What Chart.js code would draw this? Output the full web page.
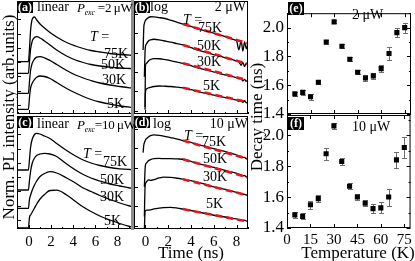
<!DOCTYPE html>
<html lang="en">
<head>
<meta charset="UTF-8" />
<title>PL transients and decay times</title>
<script src="https://cdn.jsdelivr.net/npm/chart.js@4"></script>
<style>
  body { margin: 0; background: #fff; }
  #fig { position: relative; width: 415px; height: 261px; overflow: hidden;
         font-family: "Liberation Serif", "Times New Roman", serif; color: #000; }
  #fig canvas { position: absolute; left: 0; top: 0; }
  .t { position: absolute; white-space: nowrap; line-height: 1; font-size: 14px; }
  .p { font-size: 13px; letter-spacing: -0.2px; }
  .box { position: absolute; background: #000; color: #fff; font-weight: bold;
         font-size: 12px; line-height: 12px; width: 16px; height: 12px; text-align: center; }
  .ttl { position: absolute; white-space: nowrap; font-size: 17px; line-height: 1;
         transform: translate(-50%, -50%); }
  .rot { transform: translate(-50%, -50%) rotate(-90deg); }
  sub { font-size: 8px; vertical-align: -3px; }
</style>
</head>
<body>
<div id="fig">
  <canvas id="pa" width="415" height="261"></canvas>
  <canvas id="pb" width="415" height="261"></canvas>
  <canvas id="pc" width="415" height="261"></canvas>
  <canvas id="pd" width="415" height="261"></canvas>
  <canvas id="pe" width="415" height="261"></canvas>
  <canvas id="pf" width="415" height="261"></canvas>

  <div style="position:absolute;left:131px;top:0;width:3px;height:230px;background:#8c8c8c"></div>

  <div class="box" style="left:17px;top:1px">(a)</div>
  <div class="t" style="left:37px;top:0px">linear</div>
  <div class="t p" style="left:77px;top:1px"><i>P</i><sub><i>exc</i></sub> =2&thinsp;μW</div>
  <div class="t" style="left:90px;top:30px"><i>T</i> =</div>
  <div class="t" style="left:104px;top:47px">75K</div>
  <div class="t" style="left:101px;top:58px">50K</div>
  <div class="t" style="left:102px;top:73px">30K</div>
  <div class="t" style="left:107px;top:97px">5K</div>

  <div class="box" style="left:134px;top:1px">(b)</div>
  <div class="t" style="left:150px;top:0px">log</div>
  <div class="t" style="right:169px;top:0px">2 μW</div>
  <div class="t" style="left:183px;top:13px"><i>T</i> =</div>
  <div class="t" style="left:198px;top:21px">75K</div>
  <div class="t" style="left:197px;top:39px">50K</div>
  <div class="t" style="left:197px;top:55px">30K</div>
  <div class="t" style="left:203px;top:79px">5K</div>

  <div class="box" style="left:17px;top:116px">(c)</div>
  <div class="t" style="left:37px;top:117px">linear</div>
  <div class="t p" style="left:77px;top:118px"><i>P</i><sub><i>exc</i></sub>=10&thinsp;μW</div>
  <div class="t" style="left:83px;top:147px"><i>T</i> =</div>
  <div class="t" style="left:103px;top:155px">75K</div>
  <div class="t" style="left:100px;top:173px">50K</div>
  <div class="t" style="left:100px;top:190px">30K</div>
  <div class="t" style="left:104px;top:214px">5K</div>

  <div class="box" style="left:134px;top:116px">(d)</div>
  <div class="t" style="left:153px;top:117px">log</div>
  <div class="t" style="right:167px;top:117px">10 μW</div>
  <div class="t" style="left:184px;top:129px"><i>T</i> =</div>
  <div class="t" style="left:202px;top:135px">75K</div>
  <div class="t" style="left:203px;top:152px">50K</div>
  <div class="t" style="left:203px;top:170px">30K</div>
  <div class="t" style="left:206px;top:197px">5K</div>

  <div class="box" style="left:288px;top:2px;height:13px;line-height:13px">(e)</div>
  <div class="t" style="left:352px;top:8px">2 μW</div>
  <div class="box" style="left:288px;top:117px;height:13px;line-height:13px">(f)</div>
  <div class="t" style="left:352px;top:120px">10 μW</div>

  <div class="ttl rot" style="left:8px;top:117px">Norm. PL intensity (arb.units)</div>
  <div class="ttl" style="left:191px;top:252px">Time (ns)</div>
  <div class="ttl rot" style="left:256px;top:117px">Decay time (ns)</div>
  <div class="ttl" style="left:358px;top:252px">Temperature (K)</div>
</div>

<script>
// ---- data ----
// linear panels (a),(c): time in ns, intensity in arb. units (curves offset)
const timeLin = [-1.1, -0.05, 0.05, 0.15, 0.3, 0.5, 0.7, 1.0, 1.4, 1.9, 2.5, 3.4, 4.2, 4.9, 5.6, 6.4, 7.3, 8.2, 9.1, 9.3];
const linA75 = [5.23, 5.23, 6.6, 8.4, 9.5, 9.7, 9.4, 9.0, 8.6, 8.15, 7.7, 7.15, 6.8, 6.55, 6.35, 6.2, 6.05, 5.95, 5.88, 5.87];
const linA50 = [4.07, 4.07, 5.3, 6.5, 7.3, 7.65, 7.73, 7.6, 7.3, 6.9, 6.4, 5.8, 5.4, 5.15, 4.95, 4.8, 4.68, 4.6, 4.55, 4.54];
const linA30 = [2.07, 2.07, 3.3, 4.4, 5.1, 5.5, 5.68, 5.73, 5.62, 5.35, 4.95, 4.35, 3.9, 3.6, 3.35, 3.1, 2.9, 2.75, 2.62, 2.6];
const linA5  = [0.47, 0.47, 1.7, 2.6, 3.1, 3.45, 3.68, 3.8, 3.75, 3.55, 3.15, 2.55, 2.1, 1.75, 1.45, 1.2, 0.98, 0.8, 0.68, 0.66];
const linC75 = [5.9, 5.9, 7.0, 8.2, 9.0, 9.45, 9.57, 9.5, 9.3, 9.05, 8.55, 7.85, 7.3, 6.9, 6.6, 6.35, 6.15, 6.02, 5.95, 5.94];
const linC50 = [3.9, 3.9, 4.9, 5.8, 6.6, 7.1, 7.35, 7.5, 7.57, 7.5, 7.25, 6.5, 5.9, 5.45, 5.1, 4.8, 4.5, 4.3, 4.1, 4.07];
const linC30 = [2.07, 2.07, 3.0, 3.4, 3.9, 4.4, 4.8, 5.25, 5.55, 5.73, 5.6, 5.1, 4.6, 4.1, 3.75, 3.35, 2.95, 2.6, 2.3, 2.25];
const linC5  = [0.1, 0.1, 1.2, 1.4, 1.7, 2.1, 2.5, 3.0, 3.45, 3.85, 3.88, 3.4, 2.75, 2.2, 1.75, 1.3, 0.9, 0.55, 0.25, 0.2];

// log panels (b),(d)
const timeLog = [-0.2, -0.14, -0.09, -0.03, 0, 0.09, 0.29, 0.45, 0.75, 1.2, 1.6, 2.2, 2.8, 3.3, 4.0, 4.6, 5.3, 5.9, 6.6, 7.3, 7.7, 8.0, 8.2, 8.4, 8.55, 8.7, 8.85, 9.0];
const logB75 = [0.0135, 0.2, 0.32, 0.42, 0.46, 0.53, 0.67, 0.72, 0.70, 0.65, 0.60, 0.48, 0.37, 0.30, 0.225, 0.17, 0.13, 0.105, 0.08, 0.058, 0.048, 0.04, 0.014, 0.042, 0.012, 0.036, 0.016, 0.03];
const logB50 = [null, null, 5.6e-4, 0.012, 0.02, 0.028, 0.041, 0.046, 0.049, 0.046, 0.041, 0.035, 0.029, 0.025, 0.018, 0.0135, 0.0105, 0.0082, 0.0063, 0.0048, 0.0042, 0.0036, 0.0033, 0.0022, 0.0031, 0.0019, 0.0028, 0.0026];
const logB30 = [null, null, null, 1.5e-5, 0.0019, 0.0028, 0.0038, 0.0044, 0.0049, 0.0048, 0.0045, 0.0038, 0.0032, 0.0028, 0.0021, 0.0016, 0.00128, 0.00104, 8e-4, 6.3e-4, 5.6e-4, 5e-4, 4.4e-4, 4.6e-4, 3.4e-4, 4.1e-4, 3.3e-4, 3.8e-4];
const logB5  = [null, null, null, 1.1e-5, 8e-5, 1.3e-4, 1.5e-4, 1.6e-4, 1.75e-4, 1.86e-4, 1.82e-4, 1.75e-4, 1.62e-4, 1.5e-4, 1.2e-4, 9.5e-5, 7.8e-5, 6.4e-5, 5.2e-5, 4.4e-5, 3.8e-5, 3.5e-5, 3.0e-5, 3.4e-5, 2.6e-5, 3.2e-5, 2.5e-5, 2.9e-5];
const logD75 = [0.06, 0.148, 0.19, 0.24, 0.27, 0.31, 0.40, 0.45, 0.49, 0.47, 0.43, 0.36, 0.30, 0.25, 0.2, 0.155, 0.125, 0.10, 0.078, 0.06, 0.052, 0.045, 0.04, 0.038, 0.033, 0.034, 0.029, 0.03];
const logD50 = [null, null, 0.001, 0.008, 0.0136, 0.017, 0.023, 0.026, 0.029, 0.030, 0.029, 0.029, 0.028, 0.027, 0.021, 0.016, 0.013, 0.0105, 0.0083, 0.0063, 0.0056, 0.005, 0.0046, 0.0042, 0.0037, 0.0039, 0.0033, 0.0032];
const logD30 = [null, null, 2.9e-5, 0.001, 0.0014, 0.0018, 0.0023, 0.0022, 0.0024, 0.0029, 0.0032, 0.0031, 0.0028, 0.0025, 0.0021, 0.0017, 0.00135, 0.00104, 8.3e-4, 6.7e-4, 5.8e-4, 5.2e-4, 4.9e-4, 4.5e-4, 4.2e-4, 4.1e-4, 3.8e-4, 3.8e-4];
const logD5  = [null, null, 5.9e-6, 5.2e-5, 5.8e-5, 6.3e-5, 6.3e-5, 6.4e-5, 7.2e-5, 8.0e-5, 8.5e-5, 8.7e-5, 8.0e-5, 7.1e-5, 6.0e-5, 5.0e-5, 4.2e-5, 3.5e-5, 3.0e-5, 2.6e-5, 2.3e-5, 2.2e-5, 2.0e-5, 2.0e-5, 1.8e-5, 1.9e-5, 1.7e-5, 1.8e-5];

// mono-exponential fits (red dashed), end points
const fitTime = [3.3, 9.0];
const fitB75 = [0.30, 0.030], fitB50 = [0.025, 0.0025], fitB30 = [0.0028, 3.7e-4], fitB5 = [1.5e-4, 2.7e-5];
const fitD75 = [0.25, 0.028], fitD50 = [0.027, 0.0031], fitD30 = [0.0025, 3.6e-4], fitD5 = [7.1e-5, 1.6e-5];

// decay times (e) 2 uW, (f) 10 uW
const tempK = [5, 10, 15, 20, 25, 30, 35, 40, 45, 50, 55, 60, 65, 70, 75];
const tauE = [1.54, 1.55, 1.52, 1.62, 1.90, 2.04, 1.87, 1.78, 1.69, 1.65, 1.665, 1.715, 1.82, 1.965, 2.00];
const errE = [0.015, 0.02, 0.02, 0.015, 0.015, 0.01, 0.015, 0.015, 0.015, 0.02, 0.02, 0.025, 0.045, 0.03, 0.035];
const tauF = [1.485, 1.475, 1.55, 1.59, 1.88, 2.06, 1.83, 1.67, 1.60, 1.56, 1.525, 1.53, 1.60, 1.84, 1.92];
const errF = [0.02, 0.02, 0.025, 0.025, 0.04, 0.02, 0.02, 0.02, 0.02, 0.02, 0.03, 0.035, 0.055, 0.05, 0.065];

// tick values
const timeLabels = [0, 2, 4, 6, 8];
const timeMinor = [-1, 1, 3, 5, 7, 9];
const linTicks = [0.9, 2.33, 3.76, 5.19, 6.62, 8.05, 9.48, 10.91];
const logTicks = [1e-5, 1e-4, 1e-3, 1e-2, 1e-1, 1];
const tempLabels = [0, 15, 30, 45, 60, 75];
const tauLabels = [1.4, 1.6, 1.8, 2.0];
const tauMinor = [1.5, 1.7, 1.9, 2.1];

// ---- drawing ----
const W = 415, H = 261;
Chart.defaults.font.family = '"Liberation Serif", "Times New Roman", serif';
Chart.defaults.color = '#000';

const framePlugin = {
  id: 'frame',
  afterDraw(chart, args, o) {
    const { ctx, chartArea: a, scales } = chart;
    ctx.save();
    ctx.strokeStyle = '#000';
    ctx.lineWidth = 1;
    ctx.strokeRect(a.left + 0.5, a.top + 0.5, a.right - a.left - 1, a.bottom - a.top - 1);
    ctx.beginPath();
    const xt = (vals, len, top) => (vals || []).forEach(v => {
      const p = Math.round(scales.x.getPixelForValue(v)) + 0.5;
      ctx.moveTo(p, a.bottom); ctx.lineTo(p, a.bottom - len);
      if (top) { ctx.moveTo(p, a.top); ctx.lineTo(p, a.top + len); }
    });
    const yt = (vals, len, right) => (vals || []).forEach(v => {
      const p = Math.round(scales.y.getPixelForValue(v)) + 0.5;
      ctx.moveTo(a.left, p); ctx.lineTo(a.left + len, p);
      if (right) { ctx.moveTo(a.right, p); ctx.lineTo(a.right - len, p); }
    });
    xt(o.xMajor, 4, o.both); xt(o.xMinor, 2, o.both);
    yt(o.yMajor, 4, o.both); yt(o.yMinor, 2, o.both);
    ctx.stroke();
    ctx.restore();
  }
};

const errPlugin = {
  id: 'errbars',
  beforeDatasetsDraw(chart, args, o) {
    if (!o.err) return;
    const { ctx, scales: { x, y } } = chart;
    ctx.save();
    ctx.strokeStyle = '#6e6e6e';
    ctx.lineWidth = 1;
    ctx.beginPath();
    chart.data.datasets[0].data.forEach((p, i) => {
      const px = Math.round(x.getPixelForValue(p.x)) + 0.5;
      const y1 = Math.round(y.getPixelForValue(p.y + o.err[i])) + 0.5;
      const y2 = Math.round(y.getPixelForValue(p.y - o.err[i])) + 0.5;
      ctx.moveTo(px, y1); ctx.lineTo(px, y2);
      ctx.moveTo(px - 2.5, y1); ctx.lineTo(px + 2.5, y1);
      ctx.moveTo(px - 2.5, y2); ctx.lineTo(px + 2.5, y2);
    });
    ctx.stroke();
    ctx.restore();
  }
};
Chart.register(framePlugin, errPlugin);

function curve(ts, vs, red) {
  return {
    data: ts.map((t, i) => ({ x: t, y: vs[i] })),
    borderColor: red ? '#e3141b' : '#000',
    borderWidth: red ? 2.6 : 1.3,
    borderDash: red ? [7, 4] : [],
    order: red ? 0 : 1,
    cubicInterpolationMode: red ? 'default' : 'monotone',
    pointRadius: 0,
    fill: false
  };
}

function panel(id, r, c) {
  const yw = c.yLabels ? 40 : 0;
  const xh = c.xLabels ? 24 : 0;
  return new Chart(document.getElementById(id), {
    type: 'line',
    data: { datasets: c.datasets },
    options: {
      responsive: false,
      animation: false,
      devicePixelRatio: 1,
      layout: { padding: { left: r.l - yw, top: r.t, right: W - r.r, bottom: H - r.b - xh } },
      plugins: {
        legend: { display: false },
        tooltip: { enabled: false },
        frame: c.frame,
        errbars: c.err ? { err: c.err } : {}
      },
      scales: {
        x: {
          type: 'linear', min: c.x[0], max: c.x[1],
          grid: { display: false, drawTicks: false }, border: { display: false },
          ticks: { display: !!c.xLabels, padding: c.xPad || 3, maxRotation: 0, font: { size: 15 } },
          afterBuildTicks: s => { s.ticks = (c.xLabels || []).map(v => ({ value: v })); },
          afterFit: s => { s.height = xh; }
        },
        y: {
          type: c.log ? 'logarithmic' : 'linear', min: c.y[0], max: c.y[1],
          grid: { display: false, drawTicks: false }, border: { display: false },
          ticks: { display: !!c.yLabels, padding: 3, font: { size: 17 }, callback: v => Number(v).toFixed(1) },
          afterBuildTicks: s => { s.ticks = (c.yLabels || []).map(v => ({ value: v })); },
          afterFit: s => { s.width = yw; }
        }
      }
    }
  });
}

const logRange = [6.6e-6, 4.7];
const linRange = [0, 11.3];

panel('pa', { l: 17, t: 1, r: 132, b: 114 }, {
  x: [-1.08, 9.3], y: linRange,
  datasets: [curve(timeLin, linA75), curve(timeLin, linA50), curve(timeLin, linA30), curve(timeLin, linA5)],
  frame: { xMajor: timeLabels, xMinor: timeMinor, yMajor: linTicks }
});
panel('pc', { l: 17, t: 116, r: 132, b: 229 }, {
  x: [-1.08, 9.3], y: linRange, xLabels: timeLabels, xPad: 4,
  datasets: [curve(timeLin, linC75), curve(timeLin, linC50), curve(timeLin, linC30), curve(timeLin, linC5)],
  frame: { xMajor: timeLabels, xMinor: timeMinor, yMajor: linTicks }
});
panel('pb', { l: 134, t: 1, r: 248, b: 114 }, {
  x: [-1.0, 9.0], y: logRange, log: true,
  datasets: [
    curve(fitTime, fitB75, true), curve(fitTime, fitB50, true), curve(fitTime, fitB30, true), curve(fitTime, fitB5, true),
    curve(timeLog, logB75), curve(timeLog, logB50), curve(timeLog, logB30), curve(timeLog, logB5)
  ],
  frame: { xMajor: timeLabels, xMinor: timeMinor, yMajor: logTicks }
});
panel('pd', { l: 134, t: 116, r: 248, b: 229 }, {
  x: [-1.0, 9.0], y: logRange, log: true, xLabels: timeLabels, xPad: 4,
  datasets: [
    curve(fitTime, fitD75, true), curve(fitTime, fitD50, true), curve(fitTime, fitD30, true), curve(fitTime, fitD5, true),
    curve(timeLog, logD75), curve(timeLog, logD50), curve(timeLog, logD30), curve(timeLog, logD5)
  ],
  frame: { xMajor: timeLabels, xMinor: timeMinor, yMajor: logTicks }
});

function tauSet(vals) {
  return {
    data: tempK.map((t, i) => ({ x: t, y: vals[i] })),
    showLine: false,
    pointStyle: 'rect',
    pointRadius: 3.6,
    pointBackgroundColor: '#000',
    pointBorderWidth: 0
  };
}
panel('pe', { l: 287, t: 1, r: 413, b: 114 }, {
  x: [0, 79], y: [1.4, 2.1], yLabels: tauLabels,
  datasets: [tauSet(tauE)], err: errE,
  frame: { xMajor: tempLabels, yMajor: tauLabels, yMinor: tauMinor, both: true }
});
panel('pf', { l: 287, t: 115, r: 413, b: 228 }, {
  x: [0, 79], y: [1.4, 2.13], yLabels: tauLabels, xLabels: tempLabels, xPad: 3,
  datasets: [tauSet(tauF)], err: errF,
  frame: { xMajor: tempLabels, yMajor: tauLabels, yMinor: tauMinor, both: true }
});
</script>
</body>
</html>
